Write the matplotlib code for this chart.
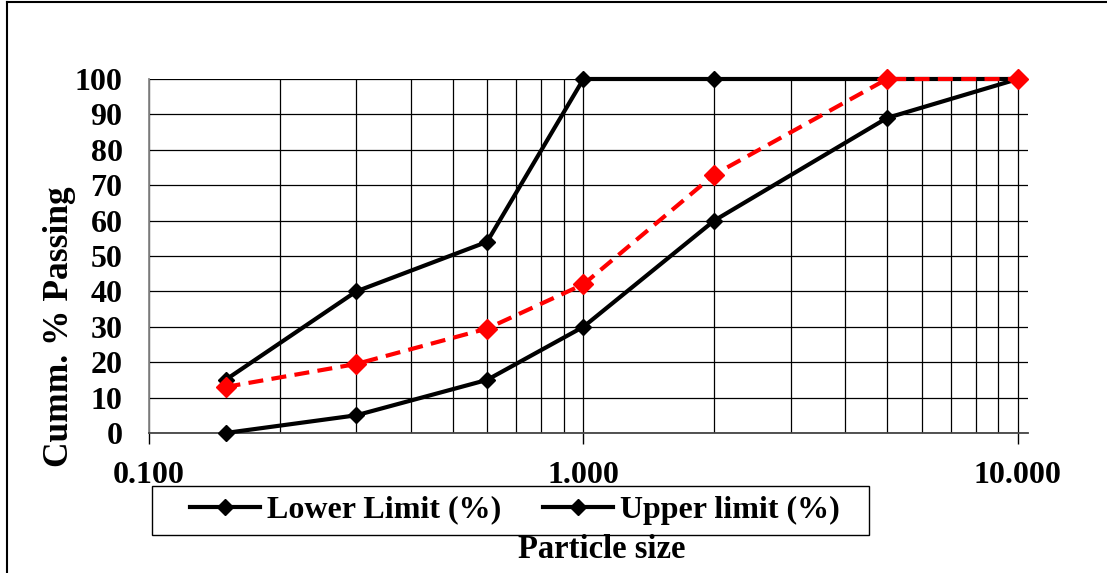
import numpy as np
import matplotlib.pyplot as plt
from matplotlib.lines import Line2D
from matplotlib.patches import Rectangle
from matplotlib.ticker import FixedLocator, FuncFormatter, NullFormatter

plt.rcParams["font.family"] = ["Liberation Serif", "DejaVu Serif"]
plt.rcParams["font.weight"] = "bold"

# sieve sizes (mm) and cumulative % passing
size = [0.15, 0.3, 0.6, 1.0, 2.0, 5.0, 10.0]
lower = [0, 5, 15, 30, 60, 89, 100]
upper = [15, 40, 54, 100, 100, 100, 100]
sample = [13, 19.5, 29.5, 42, 73, 100, 100]

W, H = 1107, 573
fig = plt.figure(figsize=(W / 100, H / 100), dpi=100)
ax = fig.add_axes([149 / W, 1 - 433 / H, (1028 - 149) / W, (433 - 79) / H])

ax.plot(size, lower, "-D", color="black", lw=3.0, ms=8, label="Lower Limit (%)",
        zorder=4, clip_on=False)
ax.plot(size, upper, "-D", color="black", lw=3.0, ms=8, label="Upper limit (%)",
        zorder=4, clip_on=False)
ax.plot(size, sample, "--D", color="#ff0000", lw=3.0, ms=10.5, dashes=(3.6, 2.0),
        zorder=5, clip_on=False)

ax.set_xscale("log")
ax.set_xlim(0.1, 10.55)
ax.set_ylim(0, 100)
ax.set_yticks(np.arange(0, 101, 10))
ax.xaxis.set_major_locator(FixedLocator([0.1, 1, 10]))
ax.xaxis.set_minor_locator(FixedLocator([m * d for d in (0.1, 1) for m in range(2, 10)]))
ax.xaxis.set_major_formatter(FuncFormatter(lambda v, p: f"{v:.3f}"))
ax.xaxis.set_minor_formatter(NullFormatter())

ax.grid(True, which="both", axis="x", color="black", lw=0.9)
ax.grid(True, which="major", axis="y", color="black", lw=0.9)
ax.set_axisbelow(True)
for s in ("top", "right"):
    ax.spines[s].set_visible(False)
ax.spines["left"].set_color("#888888")
ax.spines["left"].set_linewidth(1.3)
ax.spines["bottom"].set_color("#444444")
ax.spines["bottom"].set_linewidth(1.3)

ax.tick_params(axis="x", which="major", length=8, width=1, direction="out", labelsize=23, pad=12)
ax.tick_params(axis="x", which="minor", length=0)
ax.tick_params(axis="y", length=0, labelsize=23, pad=19)
for lab in ax.get_xticklabels() + ax.get_yticklabels():
    lab.set_fontweight("bold")

fig.text(60 / W, 1 - 327 / H, "Cumm. % Passing", rotation=90, ha="center", va="center",
         fontsize=25.5, fontweight="bold")
fig.text(602 / W, 1 - 550 / H, "Particle size", ha="center", va="center",
         fontsize=23.5, fontweight="bold")

# legend frame drawn on its own so it can be wider than the entries
fig.add_artist(Rectangle((152 / W, 1 - 535 / H), (869 - 152) / W, (535 - 486) / H,
                         transform=fig.transFigure, fill=False, edgecolor="black", lw=1.0))
leg = fig.legend(loc="center", bbox_to_anchor=(515 / W, 1 - 510 / H), ncol=2,
                 frameon=False, handlelength=2.2, handletextpad=0.22, columnspacing=1.3,
                 borderpad=0.0, prop={"size": 23, "weight": "bold"})

# outer chart border (top and left visible)
fig.add_artist(Line2D([7 / W, 7 / W], [0, 1 - 1.5 / H], color="black", lw=1.5))
fig.add_artist(Line2D([7 / W, 1], [1 - 1.5 / H, 1 - 1.5 / H], color="black", lw=1.5))

fig.savefig("out.png", dpi=100)
